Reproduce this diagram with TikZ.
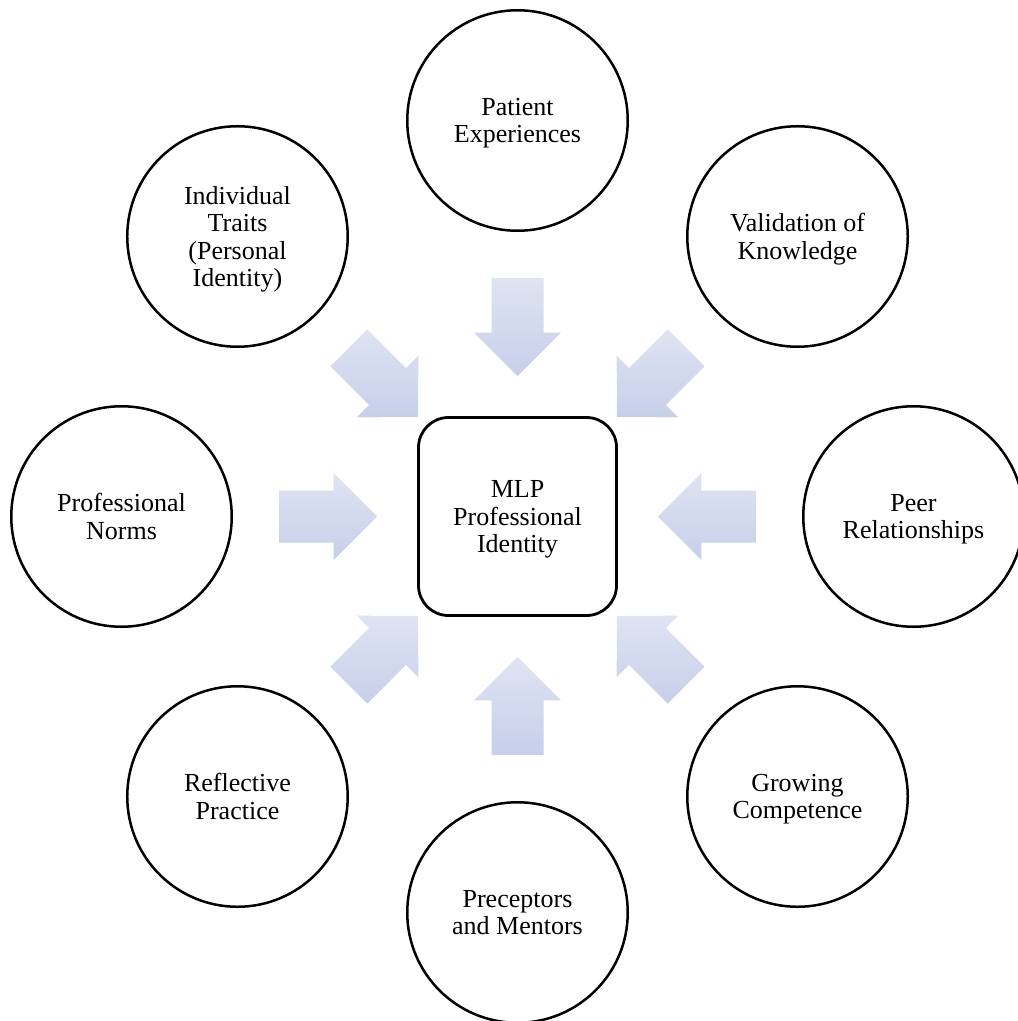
\documentclass[tikz,border=0pt]{standalone}
\usepackage{fontspec}
\setmainfont{Liberation Serif}
\usetikzlibrary{calc}
\definecolor{arrtop}{RGB}{223,228,243}
\definecolor{arrbot}{RGB}{199,207,233}
\tikzset{
  factor/.style={circle,draw=black,line width=2.5pt,minimum size=220.5pt,inner sep=0pt,
    align=center,text depth=0pt,font=\fontsize{26}{27.5}\selectfont},
  core/.style={rectangle,draw=black,line width=2.8pt,rounded corners=30pt,minimum size=198pt,
    inner sep=0pt,align=center,text depth=0pt,font=\fontsize{26}{27.5}\selectfont},
  arrowfill/.style={top color=arrtop,bottom color=arrbot,draw=none}
}
\begin{document}
\begin{tikzpicture}[x=1pt,y=-1pt]
\useasboundingbox (0,0) rectangle (1018,1021);
\coordinate (C) at (517.5,516.5);
\node[core] (box) at (C) {MLP\\Professional\\Identity};
\node[factor] (c1) at ($(C)+(270:396)$) {Patient\\Experiences};
\node[factor] (c2) at ($(C)+(315:396)$) {Validation of\\Knowledge};
\node[factor] (c3) at ($(C)+(0:396)$) {Peer\\Relationships};
\node[factor] (c4) at ($(C)+(45:396)$) {Growing\\Competence};
\node[factor] (c5) at ($(C)+(90:396)$) {Preceptors\\and Mentors};
\node[factor] (c6) at ($(C)+(135:396)$) {Reflective\\Practice};
\node[factor] (c7) at ($(C)+(180:396)$) {Professional\\Norms};
\node[factor] (c8) at ($(C)+(225:396)$) {Individual\\Traits\\(Personal\\Identity)};
\foreach \a [evaluate=\a as \b using \a+90, evaluate=\a as \c using \a-90] in {0,45,...,315}{
  \shade[arrowfill]
    ($(C)+(\a:238.5)+(\b:26)$) -- ($(C)+(\a:183.8)+(\b:26)$) --
    ($(C)+(\a:183.8)+(\b:43.5)$) -- ($(C)+(\a:140.5)$) --
    ($(C)+(\a:183.8)+(\c:43.5)$) -- ($(C)+(\a:183.8)+(\c:26)$) --
    ($(C)+(\a:238.5)+(\c:26)$) -- cycle;
}
\end{tikzpicture}
\end{document}
